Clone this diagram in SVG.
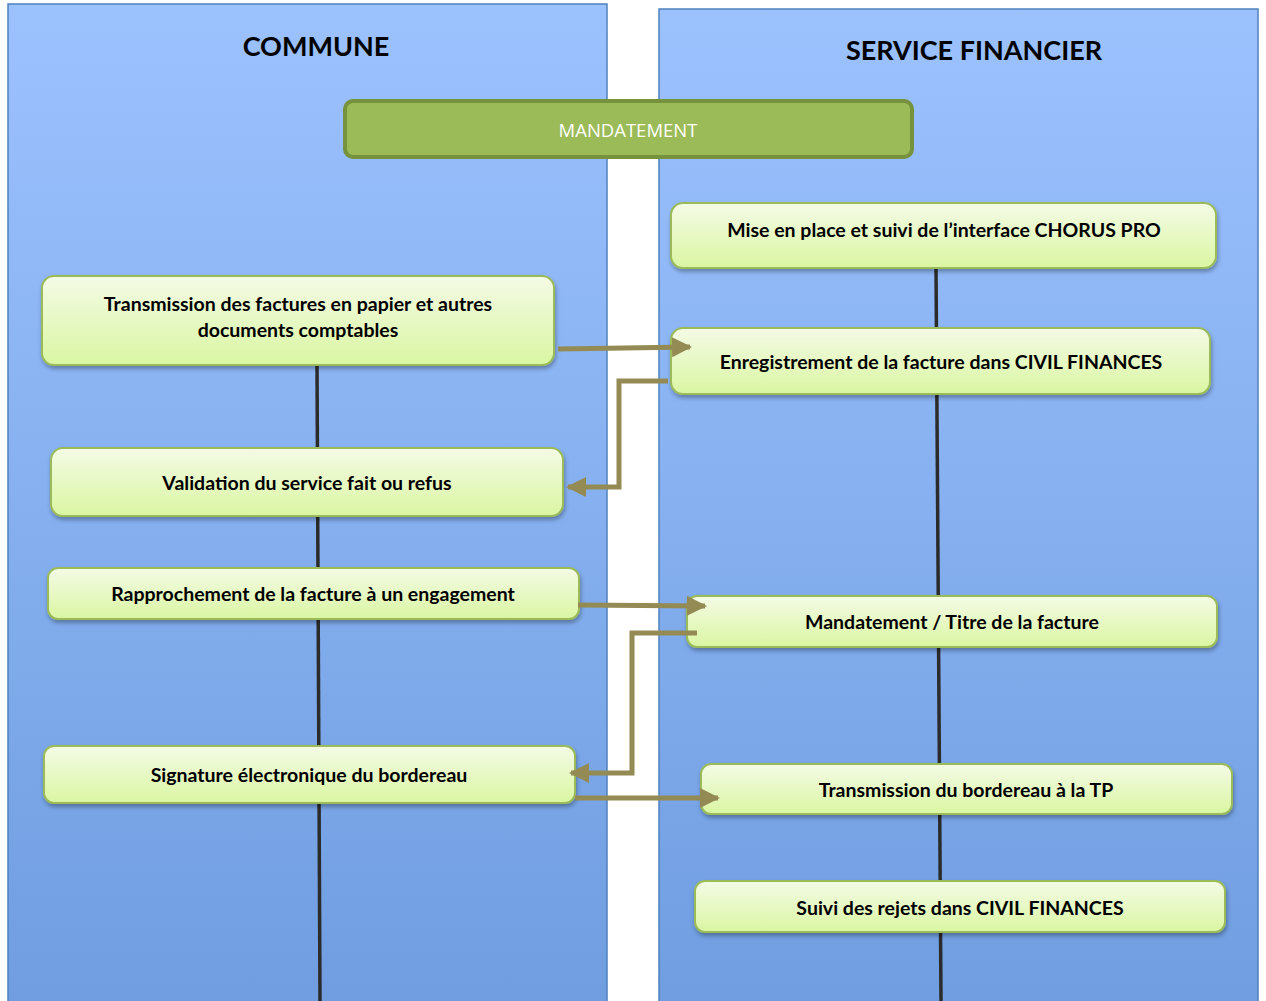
<svg xmlns="http://www.w3.org/2000/svg" width="1266" height="1001" viewBox="0 0 1266 1001">
<defs>
<linearGradient id="lane" x1="0" y1="0" x2="0" y2="1">
<stop offset="0" stop-color="#9cc2fe"/>
<stop offset="1" stop-color="#6f9de0"/>
</linearGradient>
<linearGradient id="node" x1="0" y1="0" x2="0" y2="1">
<stop offset="0" stop-color="#f4fbe6"/>
<stop offset="1" stop-color="#daf6a2"/>
</linearGradient>
<filter id="sh" x="-5%" y="-20%" width="110%" height="150%">
<feDropShadow dx="1" dy="3" stdDeviation="2" flood-color="#000" flood-opacity="0.3"/>
</filter>
<marker id="ah" viewBox="0 0 10 10" refX="9" refY="5" markerWidth="4" markerHeight="4" orient="auto" markerUnits="strokeWidth">
<path d="M0,0 L10,5 L0,10 Z" fill="#948a54"/>
</marker>
<style>
.lane{fill:url(#lane);stroke:#4f81bd;stroke-width:1.5}
.title{font-family:Lato,"Open Sans",sans-serif;font-weight:bold;font-size:27px;fill:#000;text-anchor:middle}
.box{fill:url(#node);stroke:#9bbb59;stroke-width:2;filter:url(#sh)}
.t{font-family:Lato,"Open Sans",sans-serif;font-weight:bold;font-size:19.5px;fill:#000;text-anchor:middle}
.vl{stroke:#2b2b2b;stroke-width:3.5;fill:none}
.ar{stroke:#948a54;stroke-width:5;fill:none;marker-end:url(#ah)}
</style>
</defs>
<rect width="1266" height="1001" fill="#fff"/>
<g id="lane-commune">
<rect class="lane" x="8" y="4" width="599" height="1010"/>
<text class="title" x="316" y="56">COMMUNE</text>
</g>
<g id="lane-service">
<rect class="lane" x="659" y="9" width="599" height="1010"/>
<text class="title" x="974" y="60">SERVICE FINANCIER</text>
</g>
<g id="spines">
<line class="vl" x1="317" y1="365" x2="320" y2="1001"/>
<line class="vl" x1="936" y1="268" x2="941" y2="1001"/>
</g>
<g id="mandatement">
<rect x="345" y="101" width="567" height="56" rx="8" fill="#9bbb59" stroke="#76923c" stroke-width="4"/>
<text x="628" y="137" font-family="'Open Sans',sans-serif" font-size="18.5" fill="#fff" text-anchor="middle">MANDATEMENT</text>
</g>
<g id="n1">
<rect class="box" x="42" y="276" width="512" height="89" rx="12"/>
<text class="t" x="298" y="311">Transmission des factures en papier et autres</text>
<text class="t" x="298" y="337">documents comptables</text>
</g>
<g id="n2">
<rect class="box" x="51" y="448" width="512" height="68" rx="12"/>
<text class="t" x="307" y="490">Validation du service fait ou refus</text>
</g>
<g id="n3">
<rect class="box" x="48" y="568" width="531" height="51" rx="10"/>
<text class="t" x="313" y="601">Rapprochement de la facture à un engagement</text>
</g>
<g id="n4">
<rect class="box" x="44" y="746" width="531" height="57" rx="10"/>
<text class="t" x="309" y="782">Signature électronique du bordereau</text>
</g>
<g id="s1">
<rect class="box" x="671" y="203" width="545" height="65" rx="12"/>
<text class="t" x="944" y="237">Mise en place et suivi de l’interface CHORUS PRO</text>
</g>
<g id="s2">
<rect class="box" x="671" y="328" width="539" height="66" rx="12"/>
<text class="t" x="941" y="369">Enregistrement de la facture dans CIVIL FINANCES</text>
</g>
<g id="s3">
<rect class="box" x="687" y="596" width="530" height="51" rx="10"/>
<text class="t" x="952" y="629">Mandatement / Titre de la facture</text>
</g>
<g id="s4">
<rect class="box" x="701" y="764" width="531" height="50" rx="10"/>
<text class="t" x="966" y="797">Transmission du bordereau à la TP</text>
</g>
<g id="s5">
<rect class="box" x="695" y="881" width="530" height="51" rx="10"/>
<text class="t" x="960" y="915">Suivi des rejets dans CIVIL FINANCES</text>
</g>
<g id="connectors">
<polyline class="ar" points="558,349 690,347"/>
<polyline class="ar" points="668,381 619,381 619,487 568,487"/>
<polyline class="ar" points="578,605 705,606"/>
<polyline class="ar" points="697,633 632,633 632,773 571,773"/>
<polyline class="ar" points="575,798 718,798"/>
</g>
</svg>
